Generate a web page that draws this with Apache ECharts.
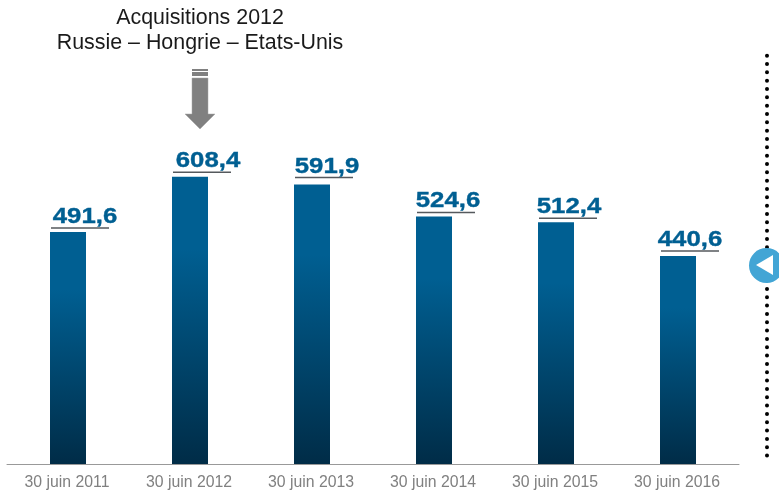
<!DOCTYPE html>
<html><head><meta charset="utf-8">
<style>html,body{margin:0;padding:0;background:#fff}#c{width:779px;height:491px}</style>
<script src="https://cdn.jsdelivr.net/npm/echarts@6/dist/echarts.min.js"></script>
</head><body><div id="c"></div>
<script>
const categories = ['30 juin 2011','30 juin 2012','30 juin 2013','30 juin 2014','30 juin 2015','30 juin 2016'];
const values = [491.6,608.4,591.9,524.6,512.4,440.6];
const labelTexts = ['491,6','608,4','591,9','524,6','512,4','440,6'];
const labelShift = [17,18,15,14,13,12];
const underlineGap = [4,4.5,7,4,4,5];
const chart = echarts.init(document.getElementById('c'),null,{renderer:'canvas'});
chart.setOption({
  animation:false,
  backgroundColor:'#fff',
  grid:{left:7,right:40,top:133.6,bottom:27},
  xAxis:{type:'category',data:categories,
    axisLine:{lineStyle:{color:'#999999',width:1}},axisTick:{show:false},
    axisLabel:{color:'#808080',fontFamily:'Liberation Sans',fontSize:15.8,margin:11,padding:[0,2,0,0],interval:0}},
  yAxis:{type:'value',min:0,max:700,show:false,splitLine:{show:false}},
  series:[
   {type:'bar',barWidth:36,z:2,data:values,
    itemStyle:{color:new echarts.graphic.LinearGradient(0,0,0,1,[
      {offset:0,color:'#005F92'},{offset:0.25,color:'#005F92'},{offset:1,color:'#002C47'}],false)}},
   {type:'custom',z:3,data:values.map((v,i)=>[i,v]),silent:true,
    encode:{x:0,y:1},
    renderItem(p,api){
      const i=api.value(0);
      const c=api.coord([i,api.value(1)]);
      const y=c[1]-underlineGap[i];
      return {type:'group',children:[
        {type:'line',shape:{x1:c[0]-17,y1:y,x2:c[0]+41,y2:y},style:{stroke:'#55595d',lineWidth:1.5}},
        {type:'text',x:c[0]+labelShift[i],y:y,scaleX:1.17,scaleY:1,
         style:{text:labelTexts[i],align:'center',verticalAlign:'bottom',fill:'#005F92',stroke:'#005F92',lineWidth:0.4,
           fontFamily:'Liberation Sans',fontWeight:'bold',fontSize:22}}
      ]};
    }}
  ],
  graphic:[
   {type:'text',style:{text:'Acquisitions 2012',x:200,y:18,align:'center',verticalAlign:'middle',fontFamily:'Liberation Sans',fontSize:21.4,fill:'#1a1a1a'}},
   {type:'text',style:{text:'Russie – Hongrie – Etats-Unis',x:200,y:43,align:'center',verticalAlign:'middle',fontFamily:'Liberation Sans',fontSize:21.4,fill:'#1a1a1a'}},
   {type:'rect',shape:{x:192,y:69,width:16,height:2},style:{fill:'#808080'}},
   {type:'rect',shape:{x:192,y:72,width:16,height:4},style:{fill:'#808080'}},
   {type:'polygon',shape:{points:[[192,78],[208,78],[208,114],[215,114],[200,129],[185,114],[192,114]]},style:{fill:'#808080',stroke:'#a6a6a6',lineWidth:0.5}},
   {type:'line',shape:{x1:767,y1:55.7,x2:767,y2:463},style:{stroke:'#000',lineWidth:4,lineCap:'round',lineDash:[0.01,8.32]}},
   {type:'circle',shape:{cx:766.5,cy:265.5,r:17.5},style:{fill:'#42A5D5'}},
   {type:'polygon',shape:{points:[[756,265],[773,255],[773,275]]},style:{fill:'#fff'}}
  ]
});
</script></body></html>
